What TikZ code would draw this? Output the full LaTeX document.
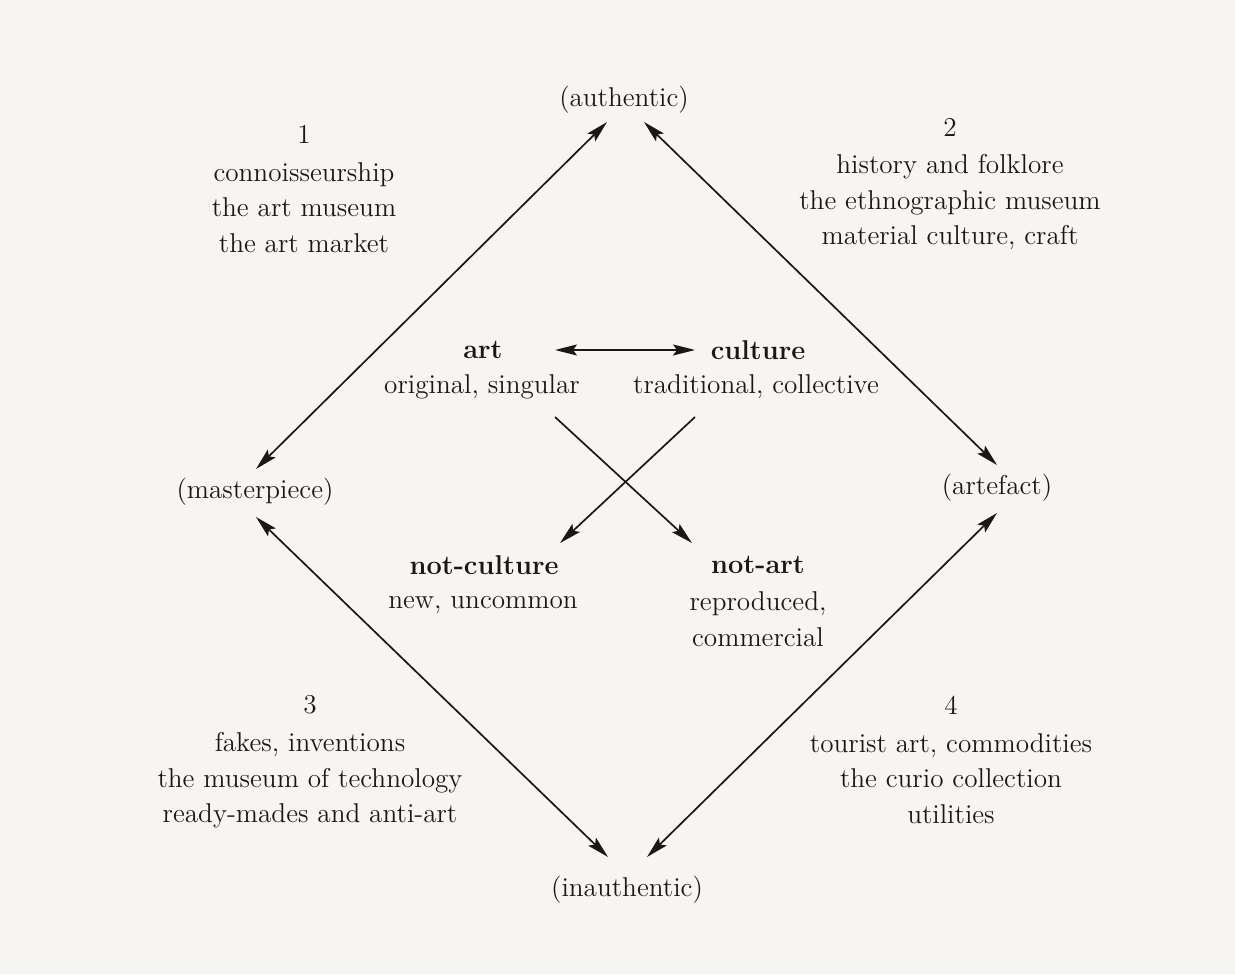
\documentclass[tikz,border=0pt]{standalone}
\usetikzlibrary{arrows.meta,calc}
\definecolor{paper}{RGB}{246,245,242}
\definecolor{ink}{RGB}{26,24,22}
\tikzset{tip/.tip={Stealth[length=11pt,width=5.5pt,inset=2pt]}}
\begin{document}
\begin{tikzpicture}[x=0.5pt,y=-0.5pt,
  every node/.style={text=ink,inner sep=0pt},
  txt/.style={font=\fontsize{13.6}{17.8}\selectfont,align=center},
  hd/.style={font=\fontsize{13.6}{17.8}\selectfont\bfseries},
  conn/.style={draw=ink,line width=0.85pt,{tip}-{tip}},
  one/.style={draw=ink,line width=0.85pt,-{tip}}]
\fill[paper] (0,0) rectangle (1235,974);
\useasboundingbox (0,0) rectangle (1235,974);
% corner labels
\node[txt] (auth) at (624,100) {(authentic)};
\node[txt] (mast) at (255,492) {(masterpiece)};
\node[txt] (arte) at (997,488) {(artefact)};
\node[txt] (inau) at (627,890) {(inauthentic)};
% quadrant blocks
\node[txt] (q1) at (304,189) {1\\[1pt]connoisseurship\\the art museum\\the art market};
\node[txt] (q2) at (950,184) {2\\[1pt]history and folklore\\the ethnographic museum\\material culture, craft};
\node[txt] (q3) at (310,762) {3\\[1pt]fakes, inventions\\the museum of technology\\ready-mades and anti-art};
\node[txt] (q4) at (951,760) {4\\[1pt]tourist art, commodities\\the curio collection\\utilities};
% central terms
\node[hd] (art) at (483,350) {art};
\node[txt] (artsub) at (482,387) {original, singular};
\node[hd] (cult) at (758,350) {culture};
\node[txt] (cultsub) at (756,387) {traditional, collective};
\node[hd] (ncult) at (484,565) {not-culture};
\node[txt] (ncultsub) at (483,605) {new, uncommon};
\node[hd] (nart) at (758,565) {not-art};
\node[txt] (nartsub) at (758,619) {reproduced,\\commercial};
% outer connectors
\draw[conn] ($(auth)+(-17,22)$) -- ($(mast)+(1,-23)$);
\draw[conn] ($(auth)+(20,22)$) -- ($(arte)+(0,-23)$);
\draw[conn] ($(mast)+(1,25)$) -- ($(inau)+(-19,-33)$);
\draw[conn] ($(arte)+(0,25)$) -- ($(inau)+(20,-33)$);
% inner connectors
\draw[conn] ($(art)+(72,0)$) -- ($(cult)+(-63,0)$);
\draw[one] ($(artsub)+(73,30)$) -- ($(nart)+(-66,-22)$);
\draw[one] ($(cultsub)+(-61,30)$) -- ($(ncult)+(76,-22)$);
\end{tikzpicture}
\end{document}
